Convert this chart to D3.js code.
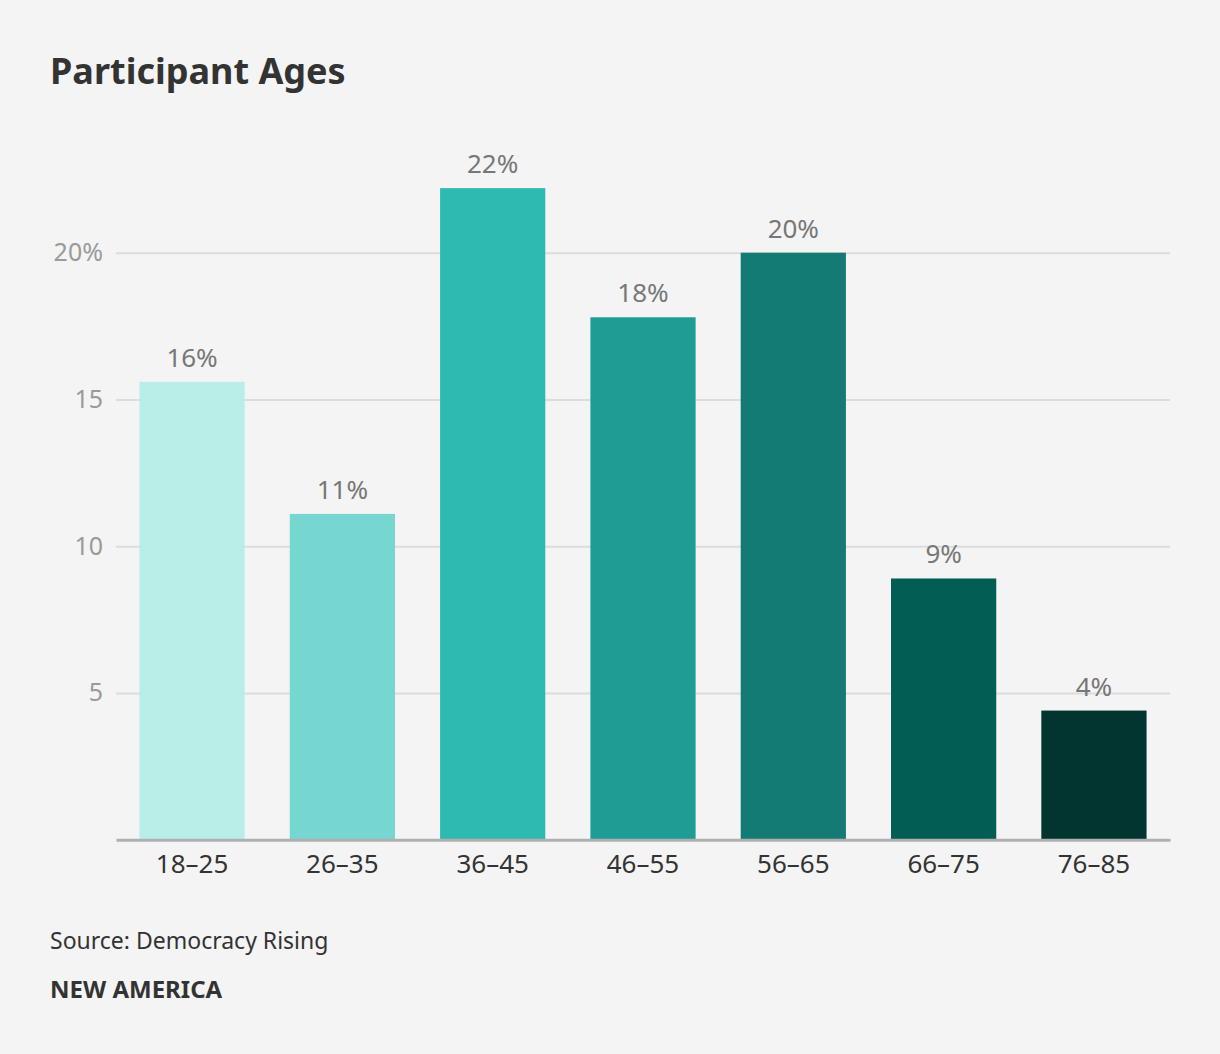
<!DOCTYPE html>
<html>
<head>
<meta charset="utf-8">
<script src="https://cdn.jsdelivr.net/npm/d3@7"></script>
<style>
  body { margin: 0; background: #f4f4f4; }
  svg { display: block; font-family: "Noto Sans", "Open Sans", sans-serif; }
</style>
</head>
<body>
<div id="chart"></div>
<script>
var ageGroups = ["18–25", "26–35", "36–45", "46–55", "56–65", "66–75", "76–85"];
var shares = [15.6, 11.1, 22.2, 17.8, 20.0, 8.9, 4.4];
var valueLabels = ["16%", "11%", "22%", "18%", "20%", "9%", "4%"];
var barColors = ["#b9ede8", "#76d6d0", "#2fbab1", "#1f9c94", "#137b73", "#025d55", "#02352f"];
var yTicks = [5, 10, 15, 20];

var svgWidth = 1220;
var svgHeight = 1054;
var font = "'Noto Sans', sans-serif";

var svg = d3.select("#chart")
  .append("svg")
  .attr("width", svgWidth)
  .attr("height", svgHeight);

svg.append("rect")
  .attr("width", svgWidth)
  .attr("height", svgHeight)
  .attr("fill", "#f4f4f4");

// title
svg.append("text")
  .attr("x", 50)
  .attr("y", 84)
  .attr("font-size", 36)
  .attr("font-weight", 700)
  .attr("fill", "#333")
  .text("Participant Ages");

var x = d3.scaleBand()
  .domain(ageGroups)
  .range([116, 1170])
  .paddingInner(0.3)
  .paddingOuter(0.156);

var y = d3.scaleLinear()
  .domain([0, 20])
  .range([839.7, 252.7]);

// gridlines + y labels
var yAxis = svg.append("g")
  .attr("transform", "translate(116,0)")
  .call(d3.axisLeft(y)
    .tickValues(yTicks)
    .tickSize(-(1170 - 116))
    .tickPadding(13)
    .tickFormat(d => d === 20 ? d + "%" : d));

yAxis.select(".domain").remove();
yAxis.selectAll(".tick line").attr("stroke", "#dcdcdc").attr("stroke-width", 2);
yAxis.selectAll(".tick text")
  .attr("fill", "#9a9a9a")
  .attr("font-size", 25)
  .attr("font-family", font);

// bars
svg.selectAll(".bar")
  .data(shares)
  .enter()
  .append("rect")
  .attr("class", "bar")
  .attr("x", (d, i) => x(ageGroups[i]))
  .attr("y", d => y(d))
  .attr("width", x.bandwidth())
  .attr("height", d => y(0) - y(d))
  .attr("fill", (d, i) => barColors[i]);

// value labels
svg.selectAll(".val")
  .data(shares)
  .enter()
  .append("text")
  .attr("class", "val")
  .attr("x", (d, i) => x(ageGroups[i]) + x.bandwidth() / 2)
  .attr("y", d => y(d) - 15)
  .attr("text-anchor", "middle")
  .attr("font-size", 26)
  .attr("fill", "#777")
  .text((d, i) => valueLabels[i]);

// x axis
var xAxis = svg.append("g")
  .attr("transform", `translate(0, ${y(0)})`)
  .call(d3.axisBottom(x).tickSize(0).tickPadding(15));

xAxis.select(".domain").attr("stroke", "#b0b0b0").attr("stroke-width", 3);
xAxis.selectAll(".tick text")
  .attr("fill", "#333")
  .attr("font-size", 26)
  .attr("font-family", font);

// footer
svg.append("text")
  .attr("x", 50)
  .attr("y", 949)
  .attr("font-size", 23)
  .attr("fill", "#333")
  .text("Source: Democracy Rising");

svg.append("text")
  .attr("x", 50)
  .attr("y", 998)
  .attr("font-size", 24)
  .attr("font-weight", 700)
  .attr("fill", "#333")
  .text("NEW AMERICA");
</script>
</body>
</html>
